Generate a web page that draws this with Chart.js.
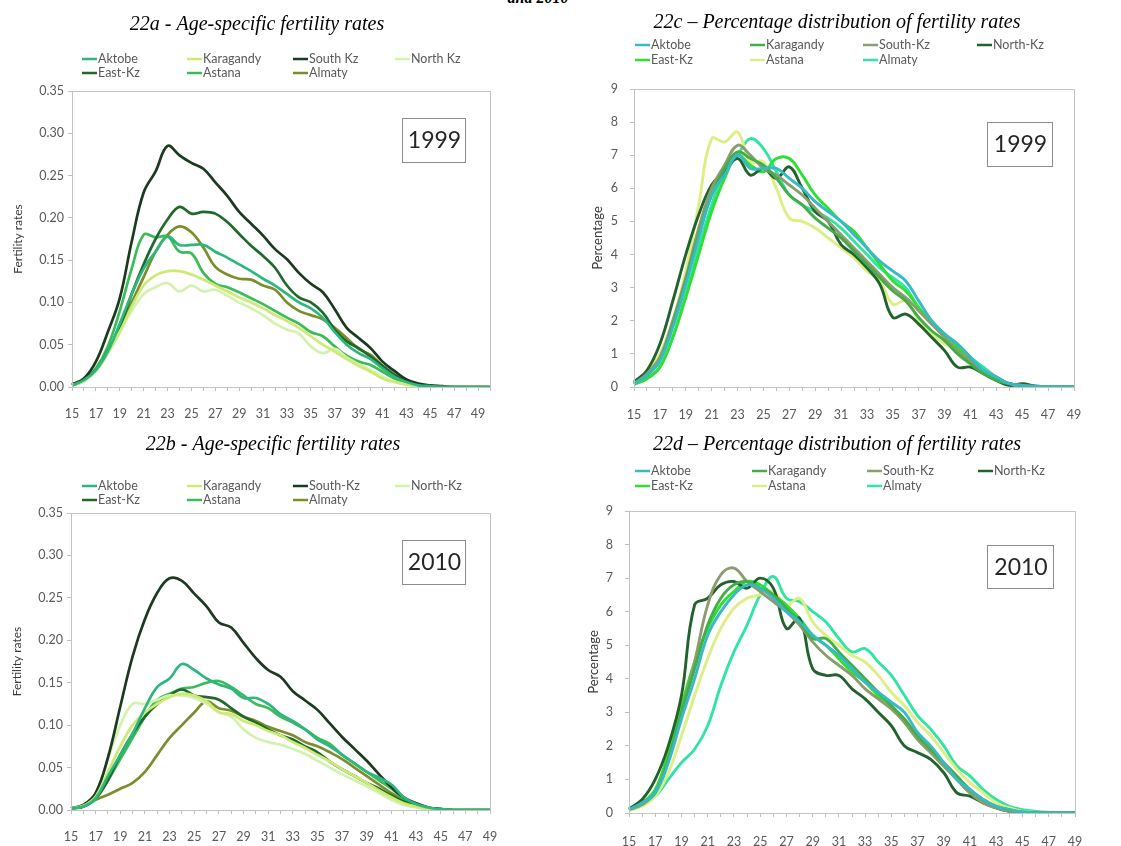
<!DOCTYPE html>
<html>
<head>
<meta charset="utf-8">
<title>Fertility rates by region, 1999 and 2010</title>
<script src="https://cdn.jsdelivr.net/npm/chart.js@4.4.1/dist/chart.umd.min.js"></script>
<style>
  body { margin: 0; background: #fff; width: 1121px; height: 846px; position: relative; overflow: hidden; }
  .panel { position: absolute; height: 423px; }
  .caption { position: absolute; left: 478px; top: -11px; width: 120px; text-align: center;
             font: italic bold 16px "Liberation Serif"; color: #000; }
</style>
</head>
<body>
<div class="caption">and 2010</div>
<div class="panel" style="left:0;top:0;width:560px"><canvas id="chart22a"></canvas></div>
<div class="panel" style="left:560px;top:0;width:561px"><canvas id="chart22c"></canvas></div>
<div class="panel" style="left:0;top:423px;width:560px"><canvas id="chart22b"></canvas></div>
<div class="panel" style="left:560px;top:423px;width:561px"><canvas id="chart22d"></canvas></div>
<script>
// Ages (x axis). The 22a chart carries one extra category at 50.
const ages = [15, 16, 17, 18, 19, 20, 21, 22, 23, 24, 25, 26, 27, 28, 29, 30, 31, 32,
              33, 34, 35, 36, 37, 38, 39, 40, 41, 42, 43, 44, 45, 46, 47, 48, 49];
const agesTo50 = [15, 16, 17, 18, 19, 20, 21, 22, 23, 24, 25, 26, 27, 28, 29, 30, 31, 32,
                  33, 34, 35, 36, 37, 38, 39, 40, 41, 42, 43, 44, 45, 46, 47, 48, 49, 50];

// 22a - age-specific fertility rates, 1999
const rates99Aktobe    = [0.002,0.008,0.02,0.042,0.075,0.11,0.14,0.16,0.178,0.168,0.168,0.168,0.16,0.153,0.145,0.137,0.128,0.12,0.11,0.1,0.093,0.082,0.065,0.05,0.04,0.033,0.022,0.012,0.006,0.002,0.001,0,0,0,0,0];
const rates99Karagandy = [0.002,0.007,0.019,0.04,0.065,0.095,0.12,0.132,0.137,0.137,0.133,0.127,0.12,0.113,0.106,0.1,0.093,0.085,0.078,0.07,0.06,0.05,0.042,0.033,0.025,0.018,0.01,0.006,0.003,0.001,0,0,0,0,0,0];
const rates99SouthKz   = [0.003,0.01,0.03,0.065,0.105,0.172,0.23,0.255,0.285,0.274,0.265,0.258,0.242,0.226,0.207,0.193,0.179,0.163,0.151,0.135,0.122,0.112,0.092,0.07,0.058,0.046,0.03,0.019,0.009,0.004,0.002,0.001,0,0,0,0];
const rates99NorthKz   = [0.002,0.007,0.019,0.04,0.065,0.09,0.11,0.118,0.123,0.113,0.12,0.113,0.115,0.108,0.1,0.093,0.085,0.075,0.068,0.063,0.048,0.04,0.045,0.035,0.027,0.02,0.012,0.006,0.003,0.001,0,0,0,0,0,0];
const rates99EastKz    = [0.002,0.008,0.02,0.042,0.07,0.11,0.145,0.175,0.198,0.213,0.205,0.207,0.205,0.195,0.181,0.167,0.155,0.141,0.12,0.106,0.1,0.088,0.068,0.054,0.046,0.036,0.025,0.014,0.007,0.003,0.001,0,0,0,0,0];
const rates99Astana    = [0.002,0.008,0.022,0.048,0.09,0.14,0.18,0.177,0.178,0.16,0.158,0.135,0.122,0.118,0.112,0.105,0.098,0.09,0.082,0.075,0.065,0.06,0.048,0.037,0.03,0.026,0.018,0.01,0.005,0.002,0.001,0,0,0,0,0];
const rates99Almaty    = [0.002,0.008,0.02,0.042,0.07,0.1,0.13,0.16,0.18,0.19,0.183,0.165,0.142,0.133,0.128,0.127,0.12,0.115,0.1,0.09,0.085,0.08,0.07,0.058,0.045,0.038,0.025,0.015,0.007,0.003,0.001,0,0,0,0,0];

// 22b - age-specific fertility rates, 2010
const rates10Aktobe    = [0.002,0.004,0.014,0.04,0.065,0.09,0.12,0.145,0.155,0.172,0.165,0.155,0.148,0.143,0.132,0.132,0.125,0.113,0.105,0.095,0.083,0.075,0.065,0.055,0.045,0.038,0.03,0.015,0.007,0.003,0.001,0,0,0,0];
const rates10Karagandy = [0.002,0.005,0.016,0.045,0.075,0.1,0.115,0.125,0.133,0.137,0.135,0.128,0.115,0.113,0.105,0.1,0.093,0.088,0.08,0.073,0.065,0.057,0.048,0.04,0.032,0.023,0.015,0.008,0.004,0.001,0,0,0,0,0];
const rates10SouthKz   = [0.002,0.006,0.02,0.062,0.122,0.181,0.225,0.256,0.273,0.27,0.255,0.24,0.221,0.215,0.197,0.179,0.165,0.157,0.14,0.129,0.118,0.102,0.086,0.072,0.058,0.042,0.027,0.015,0.008,0.003,0.001,0,0,0,0];
const rates10NorthKz   = [0.002,0.006,0.02,0.06,0.1,0.125,0.125,0.13,0.135,0.135,0.132,0.125,0.115,0.11,0.095,0.085,0.08,0.077,0.072,0.066,0.058,0.05,0.042,0.035,0.028,0.02,0.012,0.006,0.003,0.001,0,0,0,0,0];
const rates10EastKz    = [0.002,0.004,0.014,0.035,0.065,0.09,0.11,0.125,0.135,0.142,0.135,0.133,0.13,0.12,0.11,0.103,0.095,0.088,0.083,0.075,0.068,0.057,0.048,0.04,0.032,0.025,0.017,0.01,0.005,0.002,0.001,0,0,0,0];
const rates10Astana    = [0.002,0.004,0.013,0.035,0.06,0.085,0.11,0.13,0.137,0.143,0.145,0.15,0.152,0.145,0.135,0.125,0.12,0.11,0.103,0.095,0.085,0.078,0.065,0.055,0.045,0.035,0.025,0.013,0.006,0.002,0.001,0,0,0,0];
const rates10Almaty    = [0.002,0.004,0.012,0.018,0.025,0.032,0.045,0.065,0.085,0.1,0.115,0.128,0.12,0.117,0.11,0.105,0.098,0.093,0.088,0.08,0.075,0.068,0.06,0.05,0.04,0.03,0.02,0.012,0.006,0.002,0.001,0,0,0,0];

// 22c - percentage distribution, 1999
const pct99Aktobe    = [0.1,0.35,0.8,1.8,3.1,4.5,5.8,6.4,7.0,6.6,6.6,6.6,6.3,6.0,5.6,5.3,5.0,4.6,4.2,3.8,3.5,3.2,2.6,2.0,1.6,1.3,0.9,0.5,0.3,0.1,0.05,0.02,0,0,0];
const pct99Karagandy = [0.1,0.35,0.8,1.9,3.2,4.6,5.8,6.6,7.1,6.9,6.7,6.3,5.8,5.5,5.1,4.8,4.5,4.1,3.7,3.3,2.9,2.6,2.1,1.7,1.4,1.0,0.7,0.4,0.2,0.1,0.03,0,0,0,0];
const pct99SouthKz   = [0.1,0.4,0.9,2.0,3.3,4.8,6.0,6.7,7.3,7.0,6.6,6.4,6.1,5.8,5.4,5.0,4.6,4.2,3.8,3.4,3.0,2.7,2.3,1.9,1.5,1.1,0.8,0.5,0.3,0.1,0.05,0.02,0,0,0];
const pct99NorthKz   = [0.15,0.5,1.3,2.6,4.0,5.2,6.1,6.5,6.9,6.4,6.6,6.3,6.65,6.0,5.3,5.0,4.3,4.0,3.6,3.1,2.1,2.2,1.9,1.5,1.1,0.6,0.6,0.4,0.2,0.05,0.1,0.03,0,0,0];
const pct99EastKz    = [0.08,0.25,0.6,1.5,2.7,4.0,5.3,6.3,7.0,6.7,6.5,6.9,6.9,6.4,5.8,5.4,5.0,4.7,4.2,3.7,3.2,2.9,2.4,1.9,1.6,1.2,0.8,0.5,0.3,0.1,0.05,0.02,0,0,0];
const pct99Astana    = [0.1,0.4,1.0,2.0,3.5,5.5,7.5,7.4,7.7,6.8,6.8,6.0,5.1,5.0,4.8,4.5,4.2,3.9,3.5,3.2,2.5,2.6,2.0,1.6,1.3,1.1,0.8,0.5,0.25,0.1,0.05,0.02,0,0,0];
const pct99Almaty    = [0.08,0.25,0.6,1.5,2.8,4.2,5.5,6.5,7.0,7.5,7.2,6.5,5.8,5.5,5.3,5.1,4.8,4.4,4.0,3.6,3.3,3.0,2.4,2.0,1.6,1.3,0.9,0.6,0.3,0.1,0.05,0.02,0,0,0];

// 22d - percentage distribution, 2010
const pct10Aktobe    = [0.1,0.3,0.6,1.5,2.8,4.0,5.3,6.0,6.5,6.8,6.7,6.4,6.0,5.7,5.3,5.0,4.7,4.3,3.9,3.6,3.3,3.0,2.4,2.0,1.5,1.0,0.7,0.4,0.2,0.1,0.03,0,0,0,0];
const pct10Karagandy = [0.1,0.3,0.6,1.6,3.0,4.3,5.6,6.4,6.8,6.9,6.7,6.5,6.1,5.7,5.2,5.2,4.8,4.4,4.0,3.6,3.2,2.8,2.3,1.9,1.5,1.1,0.7,0.4,0.2,0.1,0.03,0,0,0,0];
const pct10SouthKz   = [0.1,0.25,0.6,1.6,3.0,4.5,6.2,7.1,7.3,6.9,6.6,6.3,6.0,5.6,5.1,4.7,4.4,4.1,3.7,3.4,3.1,2.7,2.2,1.8,1.4,1.0,0.6,0.3,0.15,0.05,0.02,0,0,0,0];
const pct10NorthKz   = [0.12,0.4,1.0,2.0,3.5,6.2,6.4,6.8,6.9,6.7,7.0,6.7,5.5,5.8,4.3,4.1,4.1,3.7,3.4,3.0,2.6,2.0,1.8,1.6,1.2,0.6,0.5,0.3,0.15,0.05,0.02,0,0,0,0];
const pct10EastKz    = [0.1,0.3,0.7,1.8,3.2,4.5,5.5,6.2,6.6,6.9,6.8,6.5,6.2,5.8,5.3,5.0,4.6,4.2,3.9,3.5,3.2,2.7,2.2,1.8,1.4,1.0,0.6,0.35,0.15,0.05,0.02,0,0,0,0];
const pct10Astana    = [0.08,0.2,0.5,1.2,2.3,3.5,4.6,5.5,6.1,6.4,6.5,6.6,6.2,6.4,5.7,5.3,5.0,4.7,4.5,4.1,3.6,3.2,2.7,2.3,1.8,1.3,0.9,0.6,0.3,0.15,0.05,0.02,0,0,0];
const pct10Almaty    = [0.1,0.25,0.5,1.0,1.5,1.9,2.6,3.8,4.8,5.6,6.5,7.05,6.4,6.3,6.0,5.7,5.2,4.8,4.9,4.5,4.1,3.5,2.9,2.5,2.0,1.4,1.1,0.7,0.4,0.2,0.1,0.05,0.02,0,0];

// line colours for the rate charts and the percentage charts
const rateColors = ["#2db67e", "#cdeb74", "#1c3a20", "#d3f2ad", "#1f6a2a", "#3cbc58", "#7d8c2c"];
const pctColors  = ["#38b9c6", "#43ad4a", "#8c9c6c", "#22622c", "#2ee030", "#dcee84", "#30e4a4"];

const textColor = "#595959";
const axisColor = "#a6a6a6";

// draws the title, the 4-column legend, the year box and the plot frame
const panelDecor = {
  id: "panelDecor",
  afterDraw(chart, args, opts) {
    const { ctx, chartArea: a } = chart;
    ctx.save();

    ctx.strokeStyle = "#c4c4c4";
    ctx.lineWidth = 1;
    ctx.strokeRect(Math.round(a.left) + 0.5, Math.round(a.top) + 0.5,
                   Math.round(a.right - a.left), Math.round(a.bottom - a.top));

    ctx.fillStyle = "#000";
    ctx.font = 'italic 20px "Liberation Serif"';
    ctx.textAlign = "center";
    ctx.textBaseline = "middle";
    ctx.fillText(opts.title, opts.titleX, opts.titleY);

    ctx.font = "12.5px Lato";
    ctx.textAlign = "left";
    chart.data.datasets.forEach((ds, i) => {
      const x = opts.legendX[i % 4];
      const y = opts.legendY[Math.floor(i / 4)];
      ctx.strokeStyle = ds.borderColor;
      ctx.lineWidth = 2.5;
      ctx.beginPath();
      ctx.moveTo(x, y);
      ctx.lineTo(x + 15, y);
      ctx.stroke();
      ctx.fillStyle = textColor;
      ctx.fillText(ds.label, x + 16, y);
    });

    const b = opts.yearBox;
    ctx.fillStyle = "#fff";
    ctx.fillRect(b.x, b.y, b.w, b.h);
    ctx.strokeStyle = "#8c8c8c";
    ctx.lineWidth = 1;
    ctx.strokeRect(b.x + 0.5, b.y + 0.5, b.w, b.h);
    ctx.fillStyle = "#262626";
    ctx.font = "23px Lato";
    ctx.textAlign = "center";
    ctx.fillText(opts.year, b.x + b.w / 2 + 1, b.y + b.h / 2 + 1);
    ctx.restore();
  }
};

function makeChart(id, p) {
  const datasets = p.series.map((values, i) => ({
    label: p.names[i],
    data: values,
    borderColor: p.colors[i],
    borderWidth: p.lineWidth,
    pointRadius: 0,
    tension: 0.4,
    fill: false
  }));

  return new Chart(document.getElementById(id), {
    type: "line",
    data: { labels: p.labels, datasets: datasets },
    plugins: [panelDecor],
    options: {
      responsive: true,
      maintainAspectRatio: false,
      animation: false,
      events: [],
      layout: { padding: { left: 0, top: p.plotTop, right: p.width - p.plotRight, bottom: 423 - p.plotBottom - 34 } },
      plugins: {
        legend: { display: false },
        tooltip: { enabled: false },
        panelDecor: p.decor
      },
      scales: {
        x: {
          type: "category",
          offset: false,
          afterFit: (s) => { s.height = 34; },
          grid: { display: true, drawOnChartArea: false, tickLength: 4, color: "#bfbfbf" },
          border: { color: axisColor },
          ticks: {
            autoSkip: false,
            maxRotation: 0,
            padding: p.xTickPad,
            color: textColor,
            font: { family: "Lato", size: 12.5 },
            callback: function (val, idx) {
              return idx % 2 === 0 ? this.getLabelForValue(val) : "";
            }
          }
        },
        y: {
          min: 0,
          max: p.yMax,
          afterFit: (s) => { s.width = p.plotLeft; },
          grid: { display: true, drawOnChartArea: false, tickLength: 4, color: "#bfbfbf" },
          border: { color: axisColor },
          title: {
            display: true,
            text: p.yTitle,
            color: "#3a3a3a",
            font: { family: "Lato", size: p.yTitleSize },
            padding: { top: p.yTitlePad, bottom: 0 }
          },
          ticks: {
            stepSize: p.yStep,
            padding: p.yTickPad,
            color: textColor,
            font: { family: "Lato", size: 12.5 },
            callback: (v) => p.yFormat(v)
          }
        }
      }
    }
  });
}

const rateFmt = (v) => v.toFixed(2);
const pctFmt = (v) => String(Math.round(v));

makeChart("chart22a", {
  width: 560, plotLeft: 72, plotRight: 490, plotTop: 91, plotBottom: 387,
  labels: agesTo50,
  names: ["Aktobe", "Karagandy", "South Kz", "North Kz", "East-Kz", "Astana", "Almaty"],
  series: [rates99Aktobe, rates99Karagandy, rates99SouthKz, rates99NorthKz, rates99EastKz, rates99Astana, rates99Almaty],
  colors: rateColors, lineWidth: 2.7,
  yMax: 0.35, yStep: 0.05, yFormat: rateFmt, yTitle: "Fertility rates", yTitleSize: 12, yTitlePad: 11, yTickPad: 4,
  xTickPad: 15,
  decor: {
    title: "22a - Age-specific fertility rates", titleX: 257, titleY: 25,
    legendX: [82, 187, 293, 395], legendY: [59, 73],
    year: "1999", yearBox: { x: 402, y: 118, w: 63, h: 44 }
  }
});

makeChart("chart22c", {
  width: 561, plotLeft: 74, plotRight: 514, plotTop: 89, plotBottom: 387,
  labels: ages,
  names: ["Aktobe", "Karagandy", "South-Kz", "North-Kz", "East-Kz", "Astana", "Almaty"],
  series: [pct99Aktobe, pct99Karagandy, pct99SouthKz, pct99NorthKz, pct99EastKz, pct99Astana, pct99Almaty],
  colors: pctColors, lineWidth: 2.9,
  yMax: 9, yStep: 1, yFormat: pctFmt, yTitle: "Percentage", yTitleSize: 13, yTitlePad: 30, yTickPad: 12,
  xTickPad: 16,
  decor: {
    title: "22c \u2013 Percentage distribution of fertility rates", titleX: 277, titleY: 23,
    legendX: [75, 190, 303, 417], legendY: [45, 60],
    year: "1999", yearBox: { x: 427, y: 122, w: 65, h: 44 }
  }
});

makeChart("chart22b", {
  width: 560, plotLeft: 71, plotRight: 490, plotTop: 90, plotBottom: 387,
  labels: ages,
  names: ["Aktobe", "Karagandy", "South-Kz", "North-Kz", "East-Kz", "Astana", "Almaty"],
  series: [rates10Aktobe, rates10Karagandy, rates10SouthKz, rates10NorthKz, rates10EastKz, rates10Astana, rates10Almaty],
  colors: rateColors, lineWidth: 2.7,
  yMax: 0.35, yStep: 0.05, yFormat: rateFmt, yTitle: "Fertility rates", yTitleSize: 12, yTitlePad: 10, yTickPad: 4,
  xTickPad: 15,
  decor: {
    title: "22b - Age-specific fertility rates", titleX: 273, titleY: 22,
    legendX: [82, 187, 293, 395], legendY: [63, 77],
    year: "2010", yearBox: { x: 402, y: 117, w: 63, h: 44 }
  }
});

makeChart("chart22d", {
  width: 561, plotLeft: 69, plotRight: 515, plotTop: 88, plotBottom: 390,
  labels: ages,
  names: ["Aktobe", "Karagandy", "South-Kz", "North-Kz", "East-Kz", "Astana", "Almaty"],
  series: [pct10Aktobe, pct10Karagandy, pct10SouthKz, pct10NorthKz, pct10EastKz, pct10Astana, pct10Almaty],
  colors: pctColors, lineWidth: 2.9,
  yMax: 9, yStep: 1, yFormat: pctFmt, yTitle: "Percentage", yTitleSize: 13, yTitlePad: 26, yTickPad: 12,
  xTickPad: 17,
  decor: {
    title: "22d \u2013 Percentage distribution of fertility rates", titleX: 277, titleY: 22,
    legendX: [75, 192, 307, 418], legendY: [48, 63],
    year: "2010", yearBox: { x: 427, y: 122, w: 66, h: 43 }
  }
});
</script>
</body>
</html>
